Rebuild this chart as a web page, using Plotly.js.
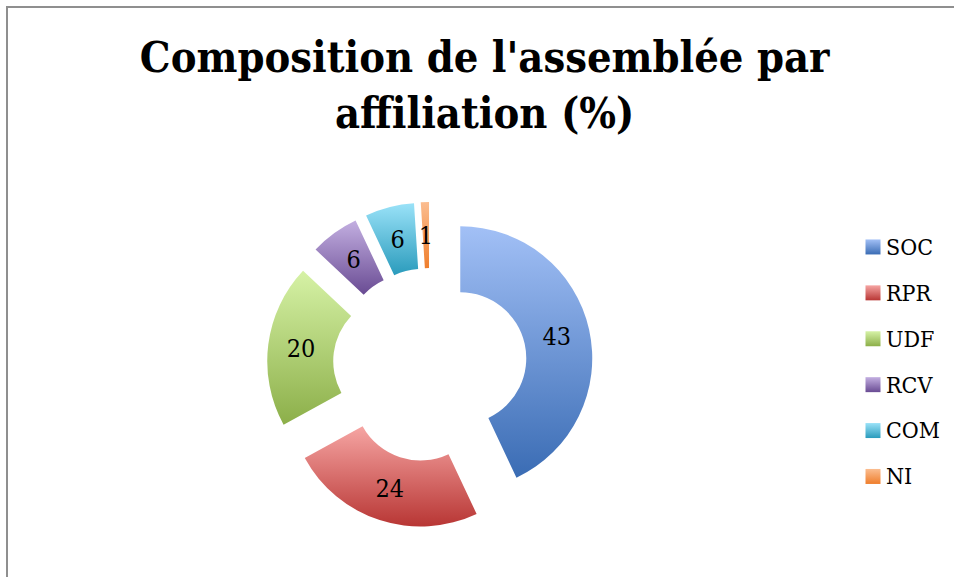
<!DOCTYPE html>
<html><head><meta charset="utf-8">
<script src="https://cdn.plot.ly/plotly-3.0.1.min.js"></script>
<style>
html,body{margin:0;padding:0;background:#fff;overflow:hidden}
#chart{position:absolute;left:0;top:0;width:954px;height:577px}
#frame{position:absolute;left:6px;top:6px;right:0;bottom:0;border-top:2px solid #8f8f8f;border-left:2px solid #8f8f8f;pointer-events:none}
</style></head><body>
<div id="chart"></div><div id="frame"></div>
<script>
const labels = ['SOC', 'RPR', 'UDF', 'RCV', 'COM', 'NI'];
const values = [43, 24, 20, 6, 6, 1];
const colorsMid = ['#6F94D8', '#DA6C6A', '#B3D47C', '#9379BA', '#5DBFDB', '#F59D5E'];
const colorsLight = ['#A2C0F6', '#F6A5A3', '#D6F2A6', '#C3AFE1', '#9AE2F8', '#FBBD90'];
const colorsDark = ['#3A6CB4', '#B83634', '#8CAF49', '#694B93', '#2A9BBC', '#EF7E2C'];
const titleText = "Composition de l'assemblée par<br>affiliation (%)";
const serif = "'DejaVu Serif Condensed', 'DejaVu Serif', serif";

const W = 954, H = 577;
const cx = 430, cy = 365, box = 326;
const HOLE = 0.5, PULL = 0.235;

const trace = {
  type: 'pie',
  labels: labels.map(l => '<span style="font-size:23px;baseline-shift:5px">' + l + '</span>'),
  values: values,
  hole: HOLE,
  pull: values.map(() => PULL),
  sort: false,
  direction: 'clockwise',
  rotation: 0,
  textinfo: 'value',
  textposition: 'inside',
  insidetextorientation: 'horizontal',
  textfont: {family: serif, size: 25, color: '#000'},
  marker: {colors: colorsMid, line: {width: 0}},
  domain: {x: [(cx - box / 2) / W, (cx + box / 2) / W], y: [1 - (cy + box / 2) / H, 1 - (cy - box / 2) / H]},
  hoverinfo: 'label+value'
};

const layout = {
  width: W, height: H,
  margin: {l: 0, r: 0, t: 0, b: 0},
  paper_bgcolor: '#fff',
  title: {text: titleText, x: 0.508, xanchor: 'center', y: 1 - 72 / H, yanchor: 'top', yref: 'container',
          font: {family: serif, size: 43, color: '#000', weight: 'bold'}},
  showlegend: true,
  legend: {x: (886 - 40) / W, xanchor: 'left', y: 1 - 362 / H, yanchor: 'middle',
           font: {family: serif, size: 33, color: '#000'}, bgcolor: 'rgba(0,0,0,0)'}
};

function applyGradients(gd) {
  const svg = gd.querySelector('svg.main-svg');
  if (!svg) return;
  let defs = svg.querySelector('defs');
  labels.forEach((l, i) => {
    const id = 'grad' + i;
    if (!svg.querySelector('#' + id)) {
      const g = document.createElementNS('http://www.w3.org/2000/svg', 'linearGradient');
      g.setAttribute('id', id);
      g.setAttribute('x1', '0'); g.setAttribute('y1', '0'); g.setAttribute('x2', '0'); g.setAttribute('y2', '1');
      [[0, colorsLight[i]], [1, colorsDark[i]]].forEach(([o, c]) => {
        const s = document.createElementNS('http://www.w3.org/2000/svg', 'stop');
        s.setAttribute('offset', o); s.setAttribute('stop-color', c);
        g.appendChild(s);
      });
      defs.appendChild(g);
    }
  });
  const cd0 = gd.calcdata && gd.calcdata[0] && gd.calcdata[0][0];
  gd.querySelectorAll('g.slice').forEach((s, i) => {
    const p = s.querySelector('path.surface');
    if (p) p.style.fill = 'url(#grad' + (i % labels.length) + ')';
    // place every value at the middle of its ring section, at full size
    const t = s.querySelector('text.slicetext');
    const d = s.__data__;
    if (t && cd0 && d && d.pxmid) {
      const len = Math.hypot(d.pxmid[0], d.pxmid[1]) || 1;
      const ux = d.pxmid[0] / len, uy = d.pxmid[1] / len;
      const k = PULL + (1 + HOLE) / 2;
      const tx = cd0.cx + cd0.r * k * ux, ty = cd0.cy + cd0.r * k * uy;
      t.setAttribute('transform', '');
      const bb = t.getBBox();
      t.setAttribute('transform', 'translate(' + (tx - bb.x - bb.width / 2) + ',' + (ty - bb.y - bb.height / 2) + ')');
    }
  });
  gd.querySelectorAll('g.legend g.traces').forEach((t, i) => {
    const p = t.querySelector('path.legendpie');
    if (p) {
      p.style.fill = 'url(#grad' + i + ')';
      const tr = p.getAttribute('transform') || '';
      p.setAttribute('transform', tr + ' translate(7,0) scale(1.25)');
    }
  });
}

Plotly.newPlot('chart', [trace], layout, {displayModeBar: false, staticPlot: true}).then(gd => applyGradients(gd));
</script>
</body></html>
